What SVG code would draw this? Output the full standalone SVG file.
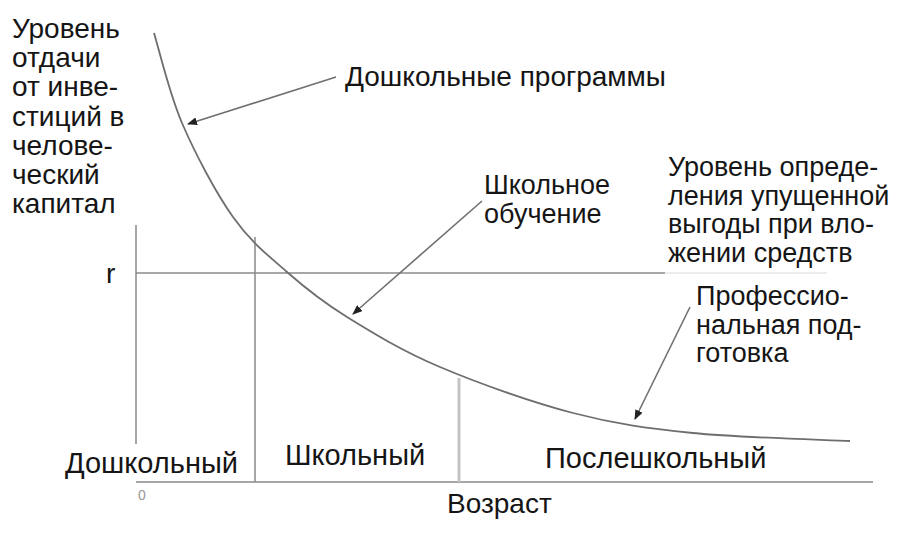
<svg xmlns="http://www.w3.org/2000/svg" width="920" height="536" viewBox="0 0 920 536">
<style>
.t{font-family:"Liberation Sans",Arial,sans-serif;font-size:28px;fill:#151515}
.m{font-size:27px}
.b{font-size:29px}
.ax{stroke:#8a8a8a;stroke-width:1.5;fill:none}
.ld{stroke:#707070;stroke-width:1.6;fill:none;marker-end:url(#ah)}
.cv{stroke:#6e6e6e;stroke-width:1.8;fill:none}
</style>
<defs>
<marker id="ah" markerWidth="10" markerHeight="8" refX="9" refY="4" orient="auto" markerUnits="userSpaceOnUse">
<path d="M0,0 L10,4 L0,8 Z" fill="#222"/>
</marker>
</defs>
<rect width="920" height="536" fill="#fff"/>
<g id="axes">
<line class="ax" x1="136" y1="225" x2="136" y2="444"/>
<line class="ax" x1="136" y1="482" x2="873" y2="482"/>
<line class="ax" x1="136" y1="273" x2="665" y2="273"/>
<line x1="665" y1="273" x2="827" y2="273" stroke="#dcdcdc" stroke-width="1.2"/>
<line class="ax" x1="255" y1="237" x2="255" y2="482"/>
<line x1="459" y1="378" x2="459" y2="482" stroke="#c4c4c4" stroke-width="3"/>
<text x="138" y="500" font-family="Liberation Sans,Arial,sans-serif" font-size="14" fill="#999">0</text>
</g>
<g id="curve">
<path class="cv" d="M154,33 C158.7,48 168.8,92.3 182,123 C195.2,153.7 215.5,192.2 233,217 C250.5,241.8 268,255.3 287,272 C306,288.7 321.5,301.2 347,317 C372.5,332.8 402.3,351 440,367 C477.7,383 530.8,402 573,413 C615.2,424 646.8,428.3 693,433 C739.2,437.7 823.8,439.7 850,441"/>
</g>
<g id="connectors">
<line class="ld" x1="336" y1="77" x2="188" y2="124"/>
<line class="ld" x1="482" y1="201" x2="353" y2="314"/>
<line class="ld" x1="690" y1="307" x2="635" y2="419"/>
</g>
<g id="y-label">
<text class="t" x="12" y="38">Уровень</text>
<text class="t" x="12" y="67">отдачи</text>
<text class="t" x="12" y="96">от инве-</text>
<text class="t" x="12" y="126">стиций в</text>
<text class="t" x="12" y="155">челове-</text>
<text class="t" x="12" y="184">ческий</text>
<text class="t" x="12" y="213">капитал</text>
</g>
<g id="r-label"><text class="t" x="106" y="283">r</text></g>
<g id="preschool-programs"><text class="t" x="345" y="86">Дошкольные программы</text></g>
<g id="school-education">
<text class="t m" x="484" y="194">Школьное</text>
<text class="t m" x="484" y="223">обучение</text>
</g>
<g id="opportunity-level">
<text class="t m" x="668" y="176">Уровень опреде-</text>
<text class="t m" x="668" y="205">ления упущенной</text>
<text class="t m" x="668" y="233">выгоды при вло-</text>
<text class="t m" x="668" y="262">жении средств</text>
</g>
<g id="professional-training">
<text class="t m" x="696" y="305">Профессио-</text>
<text class="t m" x="696" y="334">нальная под-</text>
<text class="t m" x="696" y="362">готовка</text>
</g>
<g id="periods">
<text class="t b" x="65" y="473">Дошкольный</text>
<text class="t b" x="285" y="465">Школьный</text>
<text class="t b" x="545" y="468">Послешкольный</text>
</g>
<g id="x-label"><text class="t" x="447" y="513">Возраст</text></g>
</svg>
